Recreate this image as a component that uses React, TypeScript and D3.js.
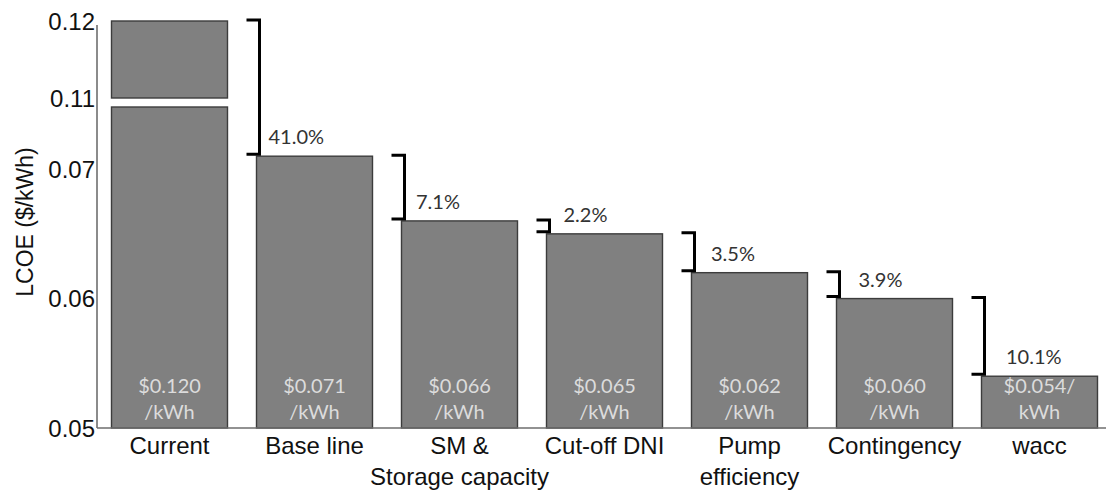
import React from "react";
import * as d3 from "d3";

// LCOE reduction steps, $/kWh
const categories = [
  ["Current"],
  ["Base line"],
  ["SM &", "Storage capacity"],
  ["Cut-off DNI"],
  ["Pump", "efficiency"],
  ["Contingency"],
  ["wacc"],
];
const lcoeValues = [0.12, 0.071, 0.066, 0.065, 0.062, 0.06, 0.054];
// the last label wraps after the slash instead of before it
const slashOnFirstLine = [false, false, false, false, false, false, true];
const reductionLabels = ["41.0%", "7.1%", "2.2%", "3.5%", "3.9%", "10.1%"];
const yTickValues = [0.05, 0.06, 0.07, 0.11, 0.12];

// broken axis: everything between these two values is squeezed into the gap
const breakLow = 0.0748;
const breakHigh = 0.11;

const W = 1106;
const H = 492;

export default function App() {
  const x = d3
    .scaleBand<number>()
    .domain(d3.range(lcoeValues.length))
    .range([97, 1112])
    .paddingInner(0.2)
    .paddingOuter(0.1);

  const y = d3
    .scaleLinear()
    .domain([0.05, breakLow, breakHigh, 0.12])
    .range([428, 107, 98, 21]);

  const bw = x.bandwidth();
  const axisX = 97;
  const baseY = y(0.05);

  const valueFmt = d3.format(".3f");

  return (
    <svg
      width={W}
      height={H}
      style={{ position: "absolute", left: 0, top: 0, background: "#fff" }}
    >
      {/* bars */}
      {lcoeValues.map((v, i) => {
        const bx = x(i)!;
        const segs: [number, number][] =
          v > breakHigh
            ? [
                [0.05, breakLow],
                [breakHigh, v],
              ]
            : [[0.05, v]];
        return (
          <g key={"bar" + i}>
            {segs.map(([a, b], k) => (
              <rect
                key={k}
                x={bx}
                y={y(b)}
                width={bw}
                height={y(a) - y(b)}
                fill="#808080"
                stroke="#3c3c3c"
                strokeWidth={1.4}
              />
            ))}
          </g>
        );
      })}

      {/* value labels inside bars */}
      {lcoeValues.map((v, i) => {
        const cx = x(i)! + bw / 2;
        const num = "$" + valueFmt(v);
        const lines = slashOnFirstLine[i] ? [num + "/", "kWh"] : [num, "/kWh"];
        return (
          <text
            key={"val" + i}
            x={cx}
            textAnchor="middle"
            fontFamily="Lato, 'Open Sans', sans-serif"
            fontSize={20}
            fill="#dcdcdc"
          >
            <tspan x={cx} y={393}>
              {lines[0]}
            </tspan>
            <tspan x={cx} y={419}>
              {lines[1]}
            </tspan>
          </text>
        );
      })}

      {/* axes */}
      <line
        x1={axisX}
        x2={W}
        y1={baseY}
        y2={baseY}
        stroke="#6e6e6e"
        strokeWidth={1.6}
      />
      <line
        x1={axisX}
        x2={axisX}
        y1={y(0.12) + 4}
        y2={baseY}
        stroke="#6e6e6e"
        strokeWidth={1.6}
      />
      {yTickValues.map((t) => (
        <text
          key={"yt" + t}
          x={axisX - 2}
          y={y(t)}
          dy="0.36em"
          textAnchor="end"
          fontFamily="'Liberation Sans', Arial, sans-serif"
          fontSize={24}
          fill="#111"
        >
          {d3.format(".2f")(t)}
        </text>
      ))}
      <text
        transform={`translate(33, 222) rotate(-90)`}
        textAnchor="middle"
        fontFamily="'Liberation Sans', Arial, sans-serif"
        fontSize={23}
        fill="#111"
      >
        LCOE ($/kWh)
      </text>

      {/* category labels */}
      {categories.map((lines, i) => {
        const cx = x(i)! + bw / 2;
        return (
          <text
            key={"cat" + i}
            textAnchor="middle"
            fontFamily="'Liberation Sans', Arial, sans-serif"
            fontSize={24}
            fill="#111"
          >
            {lines.map((ln, k) => (
              <tspan key={k} x={cx} y={454 + k * 31}>
                {ln}
              </tspan>
            ))}
          </text>
        );
      })}

      {/* reduction brackets between consecutive steps */}
      {reductionLabels.map((lab, j) => {
        const i = j + 1;
        const vx = x(i)! + 3;
        const top = y(lcoeValues[i - 1]) - 1;
        const bot = y(lcoeValues[i]) - 2;
        return (
          <g key={"br" + j}>
            <path
              d={`M${vx - 13},${top}H${vx}V${bot}H${vx - 13}`}
              fill="none"
              stroke="#000"
              strokeWidth={3}
            />
            <text
              x={x(i)! + 12 + j * 2.5}
              y={bot - 10}
              fontFamily="Lato, 'Open Sans', sans-serif"
              fontSize={20}
              fill="#333"
            >
              {lab}
            </text>
          </g>
        );
      })}
    </svg>
  );
}
